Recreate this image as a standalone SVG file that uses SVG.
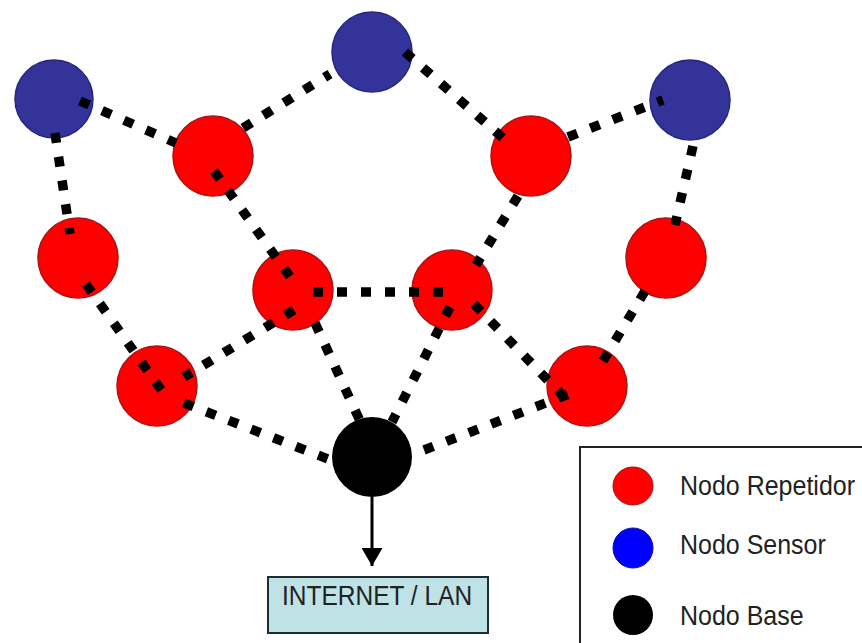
<svg xmlns="http://www.w3.org/2000/svg" width="862" height="643" viewBox="0 0 862 643">
  <defs>
    <style>
      .rep { fill: #ff0000; stroke: #b01010; stroke-width: 1.5; }
      .sen { fill: #333399; stroke: #262680; stroke-width: 1.5; }
      .base { fill: #000000; }
      .link { stroke: #000000; stroke-width: 9.5; stroke-dasharray: 10 14; fill: none; }
      .lbl { font-family: "Liberation Sans", Arial, sans-serif; fill: #222222; }
    </style>
    <marker id="arrowhead" markerWidth="6" markerHeight="7" refX="6" refY="3.5" orient="auto" markerUnits="strokeWidth">
      <path d="M0,0 L6,3.5 L0,7 Z" fill="#000000"/>
    </marker>
  </defs>

  <rect width="862" height="643" fill="#ffffff"/>

  <!-- sensor nodes -->
  <g id="sensor-left"><circle class="sen" cx="54" cy="99" r="39"/></g>
  <g id="sensor-top"><circle class="sen" cx="372" cy="52" r="40"/></g>
  <g id="sensor-right"><circle class="sen" cx="690" cy="100" r="40"/></g>

  <!-- repeater nodes -->
  <g id="rep-upper-left"><circle class="rep" cx="213" cy="156" r="40"/></g>
  <g id="rep-upper-right"><circle class="rep" cx="531" cy="156" r="40"/></g>
  <g id="rep-left"><circle class="rep" cx="78" cy="258" r="40"/></g>
  <g id="rep-right"><circle class="rep" cx="666" cy="258" r="40"/></g>
  <g id="rep-center-left"><circle class="rep" cx="293" cy="290" r="40"/></g>
  <g id="rep-center-right"><circle class="rep" cx="452" cy="290" r="40"/></g>
  <g id="rep-lower-left"><circle class="rep" cx="157" cy="386" r="40"/></g>
  <g id="rep-lower-right"><circle class="rep" cx="587" cy="386" r="40"/></g>

  <!-- base node -->
  <g id="base"><circle class="base" cx="372" cy="457" r="40"/></g>

  <!-- gateway box -->
  <g id="internet">
    <rect x="268" y="577" width="220" height="56" fill="#bfe2e6" stroke="#1e2e2e" stroke-width="2"/>
    <text class="lbl" x="282" y="0" font-size="24.5" fill="#1a2a30" transform="translate(0,605) scale(1,1.14)">INTERNET / LAN</text>
  </g>

  <!-- dotted radio links and uplink -->
  <g id="connectors">
    <line class="link" x1="80" y1="101" x2="176" y2="143"/>
    <line class="link" x1="55" y1="133" x2="70" y2="234"/>
    <line class="link" x1="243" y1="128" x2="330" y2="74"/>
    <line class="link" x1="405" y1="52" x2="503" y2="138"/>
    <line class="link" x1="568" y1="137" x2="663" y2="100"/>
    <line class="link" x1="693" y1="146" x2="675" y2="225"/>
    <line class="link" x1="214" y1="171" x2="291" y2="278"/>
    <line class="link" x1="518" y1="196" x2="476" y2="265"/>
    <line class="link" x1="313" y1="292" x2="445" y2="292"/>
    <line class="link" x1="86" y1="284" x2="162" y2="391"/>
    <line class="link" x1="294" y1="310" x2="184" y2="377"/>
    <line class="link" x1="184" y1="403" x2="328" y2="459"/>
    <line class="link" x1="315" y1="323" x2="360" y2="421"/>
    <line class="link" x1="450" y1="307" x2="392" y2="422"/>
    <line class="link" x1="474" y1="304" x2="568" y2="401"/>
    <line class="link" x1="424" y1="450" x2="569" y2="394"/>
    <line class="link" x1="645" y1="291" x2="603" y2="361"/>
    <line x1="372" y1="497" x2="372" y2="566" stroke="#000000" stroke-width="3" marker-end="url(#arrowhead)"/>
  </g>

  <!-- legend -->
  <g id="legend">
    <rect x="580" y="447" width="300" height="220" fill="#ffffff" stroke="#222222" stroke-width="2"/>
    <g id="legend-rep">
      <ellipse cx="633" cy="486" rx="20" ry="19" fill="#ff0000" stroke="#a01010" stroke-width="1"/>
      <text class="lbl" x="680" y="0" font-size="25" transform="translate(0,495) scale(1,1.1)">Nodo Repetidor</text>
    </g>
    <g id="legend-sen">
      <ellipse cx="633" cy="548" rx="20" ry="20" fill="#0000ff" stroke="#1010a0" stroke-width="1"/>
      <text class="lbl" x="680" y="0" font-size="25" transform="translate(0,554) scale(1,1.1)">Nodo Sensor</text>
    </g>
    <g id="legend-base">
      <ellipse cx="633" cy="615" rx="20" ry="20" fill="#000000"/>
      <text class="lbl" x="680" y="0" font-size="25" transform="translate(0,625) scale(1,1.1)">Nodo Base</text>
    </g>
  </g>
</svg>
